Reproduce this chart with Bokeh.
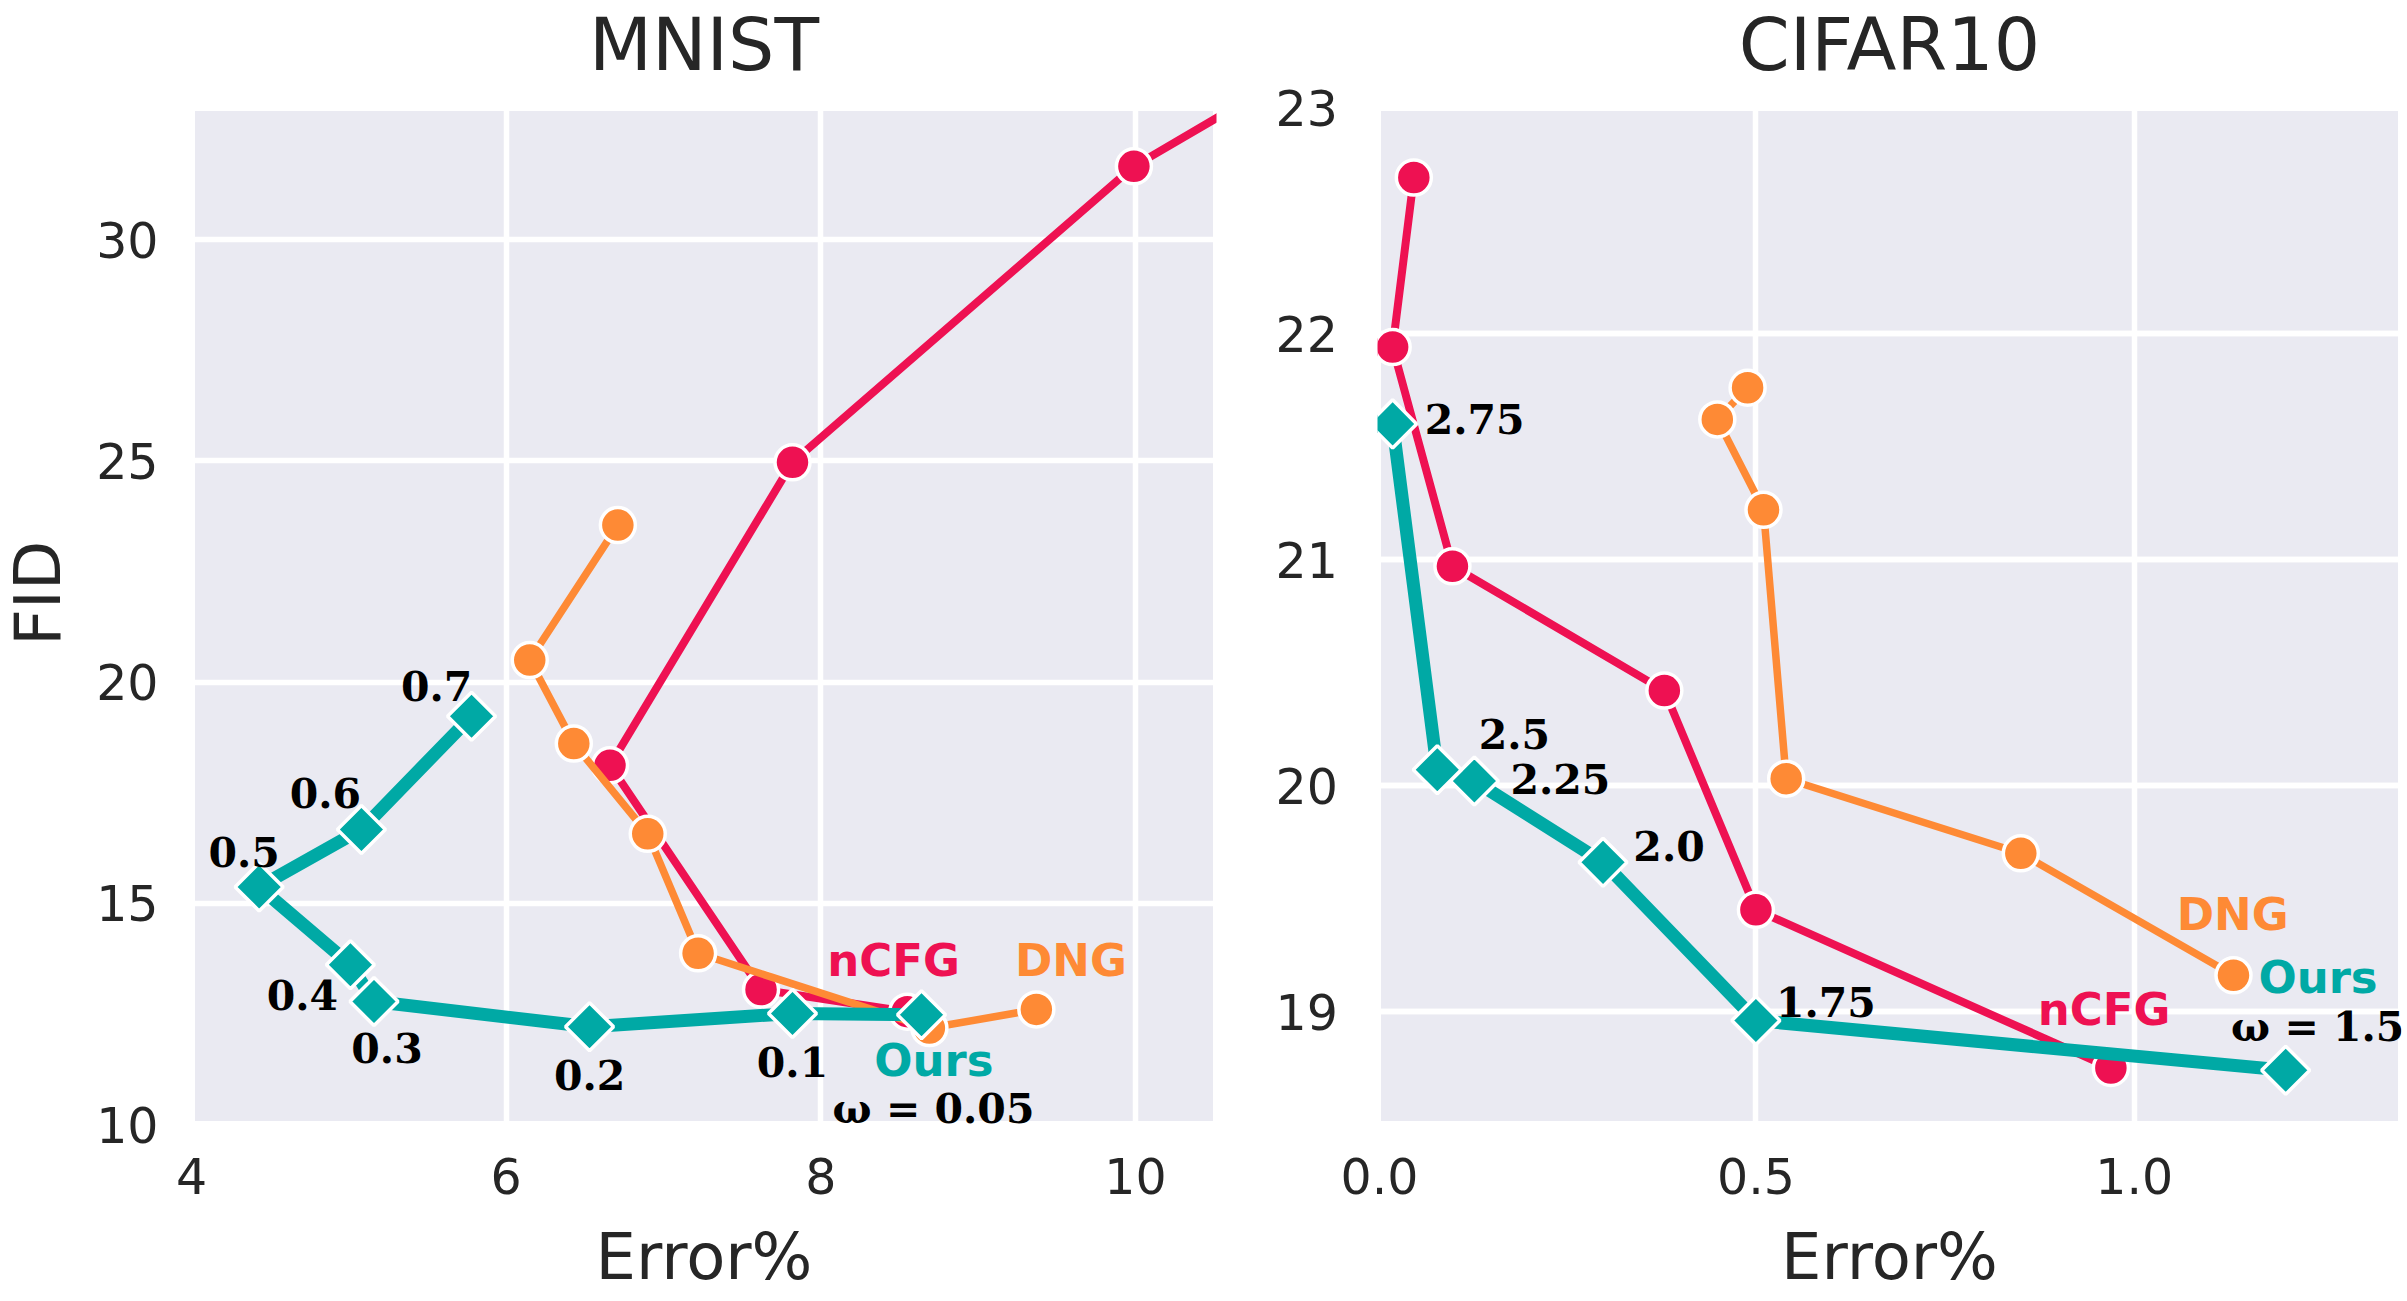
import math
from bokeh.plotting import figure
from bokeh.layouts import row, column
from bokeh.models import ColumnDataSource, FixedTicker, Range1d, Grid
from bokeh.core.properties import value
from bokeh.embed import file_html
from bokeh.resources import INLINE

# ---------------- data ----------------
# MNIST
mnist_ncfg_x = [8.55, 7.62, 6.66, 7.82, 9.99, 11.5]
mnist_ncfg_y = [12.55, 13.05, 18.12, 24.97, 31.66, 34.8]
mnist_dng_x = [9.37, 8.69, 7.22, 6.90, 6.43, 6.15, 6.71]
mnist_dng_y = [12.60, 12.18, 13.87, 16.57, 18.61, 20.50, 23.55]
mnist_ours_x = [8.64, 7.82, 6.53, 5.16, 5.01, 4.43, 5.08, 5.78]
mnist_ours_y = [12.48, 12.51, 12.21, 12.78, 13.61, 15.37, 16.67, 19.23]
mnist_ours_w = ["ω = 0.05", "0.1", "0.2", "0.3", "0.4", "0.5", "0.6", "0.7"]
mnist_xticks = [4, 6, 8, 10]
mnist_xlabels = ["4", "6", "8", "10"]
mnist_yticks = [10, 15, 20, 25, 30]
mnist_ylabels = ["10", "15", "20", "25", "30"]

# CIFAR10
cifar_ncfg_x = [0.969, 0.50, 0.379, 0.099, 0.020, 0.048]
cifar_ncfg_y = [18.75, 19.45, 20.42, 20.97, 21.94, 22.69]
cifar_dng_x = [1.131, 0.85, 0.54, 0.51, 0.449, 0.489]
cifar_dng_y = [19.16, 19.70, 20.03, 21.22, 21.62, 21.76]
cifar_ours_x = [1.20, 0.50, 0.298, 0.128, 0.079, 0.020]
cifar_ours_y = [18.74, 18.96, 19.66, 20.02, 20.07, 21.60]
cifar_ours_w = ["ω = 1.5", "1.75", "2.0", "2.25", "2.5", "2.75"]
cifar_xticks = [0.0, 0.5, 1.0]
cifar_xlabels = ["0.0", "0.5", "1.0"]
cifar_yticks = [19, 20, 21, 22, 23]
cifar_ylabels = ["19", "20", "21", "22", "23"]

titles = ["MNIST", "CIFAR10"]
y_title = "FID"
x_title = "Error%"

# ---------------- style / layout ----------------
C_NCFG = "#EE1152"
C_DNG = "#FE8A35"
C_OURS = "#00A9A5"
BG = "#EAEAF2"
TXT = "#262626"
SANS = "DejaVu Sans"
SERIF = "DejaVu Serif"

TITLE_H = 88          # height of the title strips
FID_W = 80            # width of the y-label strip
FRAME_TOP = 107       # page y of the plot frames' top
BORDER_BOTTOM = 176
FRAME_H = 1017
P1_BL, FW1, P1_BR = 111, 1025, 48
YT_W = 74             # width of the CIFAR y-tick strip
P2_BL, FW2, P2_BR = 37, 1024, 7
FULL_H = FRAME_TOP + FRAME_H + BORDER_BOTTOM
TITLE_MID = 43.5      # vertical centre of the title glyphs (page px)
FID_X, FID_Y = 37, 621  # centre of the y label (page px)

MNIST_XR, MNIST_YR = (4.0, 10.515), (10.0, 32.99)
CIFAR_XR, CIFAR_YR = (0.0, 1.353), (18.5, 23.0)

# label placement (screen px offsets from the point, right/down positive)
mnist_dx = [12, 0, 0, 13, -48, -15, -36, -35]
mnist_dy = [94, 49, 48, 46, 30, -35, -36, -30]
cifar_dx = [32, 70, 66, 86, 77, 82]
cifar_dy = [-43, -19, -16.5, -2, -36, -4.5]


def blank_fig(w, h, xr=None):
    p = figure(width=w, height=h,
               x_range=Range1d(*(xr if xr else (0, w))), y_range=Range1d(0, h),
               x_axis_location=None, y_axis_location=None, title=None,
               output_backend="svg", toolbar_location=None, min_border=0,
               outline_line_color=None, background_fill_color="white",
               border_fill_color="white")
    p.grid.visible = False
    return p


def style_axis(ax, ticks, labels):
    ax.ticker = FixedTicker(ticks=ticks)
    ax.major_label_overrides = {t: l for t, l in zip(ticks, labels)}
    ax.axis_line_color = None
    ax.major_tick_line_color = None
    ax.minor_tick_line_color = None
    ax.major_tick_out = 0
    ax.major_tick_in = 0
    ax.major_label_text_font = SANS
    ax.major_label_text_font_size = "49px"
    ax.major_label_text_color = TXT
    ax.major_label_standoff = 33
    ax.axis_label_text_font = SANS
    ax.axis_label_text_font_size = "64px"
    ax.axis_label_text_font_style = "normal"
    ax.axis_label_text_color = TXT


def make_fig(xr, yr, xticks, xlabels, yticks, ylabels, fw, bl, br, with_yaxis):
    p = figure(
        frame_width=fw, frame_height=FRAME_H, title=None,
        x_range=Range1d(*xr), y_range=Range1d(*yr),
        y_axis_location="left" if with_yaxis else None,
        output_backend="svg", toolbar_location=None,
        min_border_left=bl, min_border_right=br,
        min_border_top=FRAME_TOP - TITLE_H, min_border_bottom=BORDER_BOTTOM,
        background_fill_color=BG, border_fill_color="white",
        outline_line_color="white", outline_line_width=7,
    )
    style_axis(p.xaxis[0], xticks, xlabels)
    p.xaxis.axis_label = x_title
    p.xaxis.axis_label_standoff = 23
    if with_yaxis:
        style_axis(p.yaxis[0], yticks, ylabels)
    else:
        p.add_layout(Grid(dimension=1, ticker=FixedTicker(ticks=yticks)))
    p.grid.grid_line_color = "white"
    p.grid.grid_line_width = 5.5
    return p


def draw(p, nx, ny, dx_, dy_, ox, oy, ow, odx, ody, names_pos):
    p.line(nx, ny, line_color=C_NCFG, line_width=8)
    p.scatter(nx, ny, marker="circle", size=35, fill_color=C_NCFG,
              line_color="white", line_width=3.5)
    p.line(dx_, dy_, line_color=C_DNG, line_width=7.5)
    p.scatter(dx_, dy_, marker="circle", size=35, fill_color=C_DNG,
              line_color="white", line_width=3.5)
    p.line(ox, oy, line_color=C_OURS, line_width=13)
    p.scatter(ox, oy, marker="square", size=34, angle=math.pi / 4,
              fill_color=C_OURS, line_color="white", line_width=3.5)
    src = ColumnDataSource(dict(x=ox, y=oy, t=ow, dx=odx, dy=ody))
    p.text(x="x", y="y", text="t", x_offset="dx", y_offset="dy", source=src,
           text_font=value(SERIF), text_font_style="bold", text_font_size="41px",
           text_align="center", text_baseline="middle", text_color="black")
    for (name, x, y, c) in names_pos:
        p.text(x=[x], y=[y], text=[name], text_font=value(SANS),
               text_font_style="bold", text_font_size="45px",
               text_align="center", text_baseline="middle", text_color=c)


def title_strip(w, xr, text):
    # the strip's frame is aligned with the plot frame below it,
    # so the title sits at the centre of the data range
    t = blank_fig(w, TITLE_H, xr)
    t.text(x=[(xr[0] + xr[1]) / 2], y=[TITLE_H - TITLE_MID], text=[text],
           text_font=value(SANS), text_font_size="73px", text_color=TXT,
           text_align="center", text_baseline="middle")
    return t


# y-label strip
ffig = blank_fig(FID_W, FULL_H)
ffig.text(x=[FID_X], y=[FULL_H - FID_Y], text=[y_title],
          angle=math.pi / 2, text_font=value(SANS), text_font_size="64px",
          text_color=TXT, text_align="center", text_baseline="middle")

# MNIST panel
p1 = make_fig(MNIST_XR, MNIST_YR,
              mnist_xticks, mnist_xlabels, mnist_yticks, mnist_ylabels,
              FW1, P1_BL, P1_BR, True)
draw(p1, mnist_ncfg_x, mnist_ncfg_y, mnist_dng_x, mnist_dng_y,
     mnist_ours_x, mnist_ours_y, mnist_ours_w, mnist_dx, mnist_dy,
     [("nCFG", 8.463, 13.70, C_NCFG), ("DNG", 9.59, 13.70, C_DNG),
      ("Ours", 8.718, 11.45, C_OURS)])
t1 = title_strip(P1_BL + FW1 + P1_BR, MNIST_XR, titles[0])

# CIFAR panel
p2 = make_fig(CIFAR_XR, CIFAR_YR,
              cifar_xticks, cifar_xlabels, cifar_yticks, cifar_ylabels,
              FW2, P2_BL, P2_BR, False)
draw(p2, cifar_ncfg_x, cifar_ncfg_y, cifar_dng_x, cifar_dng_y,
     cifar_ours_x, cifar_ours_y, cifar_ours_w, cifar_dx, cifar_dy,
     [("nCFG", 0.96, 19.01, C_NCFG), ("DNG", 1.130, 19.43, C_DNG),
      ("Ours", 1.2427, 19.15, C_OURS)])
t2 = title_strip(P2_BL + FW2 + P2_BR, CIFAR_XR, titles[1])

# CIFAR y-tick strip (full height, shares the y range)
yt2 = figure(frame_width=1, frame_height=FRAME_H, title=None,
             x_range=Range1d(0, 1), y_range=p2.y_range,
             x_axis_location=None, y_axis_location="right",
             output_backend="svg", toolbar_location=None,
             min_border_left=0, min_border_right=YT_W - 1,
             min_border_top=FRAME_TOP, min_border_bottom=BORDER_BOTTOM,
             background_fill_color="white", border_fill_color="white",
             outline_line_color=None)
style_axis(yt2.yaxis[0], cifar_yticks, cifar_ylabels)
yt2.yaxis.major_label_standoff = 10
yt2.grid.visible = False

layout = row(ffig, column(t1, p1), yt2, column(t2, p2))
open("out.html", "w").write(file_html(layout, INLINE, title="plot"))
